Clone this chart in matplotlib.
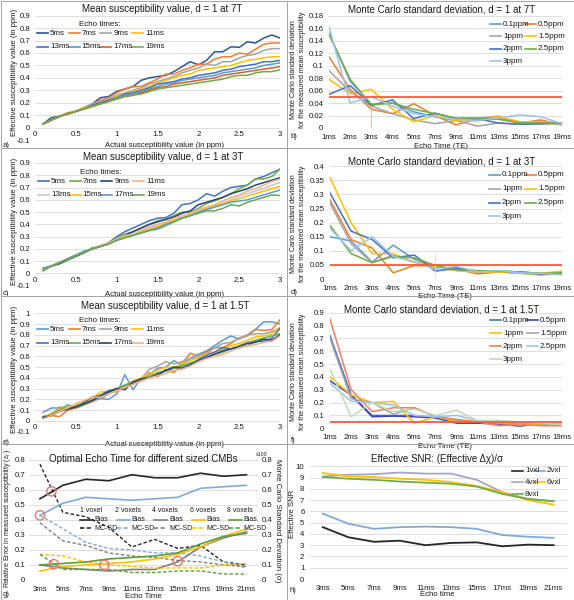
import matplotlib
matplotlib.use('Agg')
import matplotlib.pyplot as plt
from matplotlib.lines import Line2D
from matplotlib.patches import Rectangle
import numpy as np

plt.rcParams['font.family'] = ['Liberation Sans Narrow', 'Liberation Sans', 'DejaVu Sans']

# ---------------- data ----------------
chi = [round(0.1 * i, 1) for i in range(1, 31)]
echo_labels = ['5ms', '7ms', '9ms', '11ms', '13ms', '15ms', '17ms', '19ms']

a_5 = [0.03,0.08,0.09,0.11,0.13,0.16,0.19,0.24,0.25,0.29,0.31,0.33,0.38,0.40,0.41,0.42,0.45,0.49,0.53,0.505,0.54,0.61,0.61,0.65,0.645,0.69,0.68,0.72,0.745,0.72]
a_7 = [0.03,0.06,0.09,0.12,0.13,0.16,0.19,0.22,0.24,0.28,0.31,0.33,0.33,0.36,0.39,0.43,0.43,0.46,0.48,0.51,0.51,0.55,0.57,0.57,0.60,0.59,0.63,0.67,0.68,0.68]
a_9 = [0.03,0.06,0.09,0.11,0.13,0.16,0.19,0.21,0.23,0.26,0.28,0.30,0.32,0.35,0.37,0.39,0.41,0.44,0.46,0.48,0.51,0.50,0.53,0.53,0.56,0.58,0.59,0.62,0.635,0.635]
a_11 = [0.03,0.06,0.09,0.11,0.13,0.16,0.18,0.20,0.22,0.25,0.27,0.29,0.31,0.33,0.36,0.38,0.40,0.42,0.43,0.46,0.47,0.48,0.49,0.50,0.52,0.54,0.55,0.56,0.57,0.57]
a_13 = [0.03,0.06,0.09,0.11,0.13,0.15,0.18,0.20,0.22,0.24,0.27,0.28,0.30,0.32,0.35,0.36,0.37,0.39,0.40,0.42,0.43,0.44,0.46,0.47,0.49,0.50,0.51,0.53,0.53,0.54]
a_15 = [0.03,0.06,0.09,0.11,0.13,0.15,0.17,0.19,0.21,0.24,0.26,0.27,0.29,0.31,0.33,0.35,0.36,0.38,0.39,0.40,0.41,0.42,0.44,0.45,0.46,0.47,0.48,0.50,0.51,0.52]
a_17 = [0.03,0.06,0.09,0.11,0.13,0.15,0.17,0.19,0.21,0.23,0.25,0.26,0.28,0.30,0.32,0.33,0.35,0.36,0.37,0.38,0.39,0.40,0.42,0.43,0.44,0.45,0.46,0.47,0.48,0.49]
a_19 = [0.03,0.06,0.09,0.11,0.13,0.15,0.17,0.19,0.21,0.23,0.25,0.26,0.27,0.29,0.31,0.32,0.33,0.34,0.35,0.36,0.37,0.38,0.39,0.41,0.42,0.42,0.44,0.45,0.45,0.465]

c_5 = [0.04,0.06,0.08,0.11,0.14,0.17,0.20,0.22,0.25,0.30,0.34,0.37,0.40,0.43,0.45,0.455,0.49,0.56,0.57,0.60,0.65,0.63,0.67,0.70,0.71,0.72,0.77,0.79,0.82,0.85]
c_7 = [0.03,0.06,0.08,0.11,0.14,0.17,0.21,0.22,0.24,0.29,0.32,0.34,0.37,0.40,0.43,0.44,0.47,0.50,0.50,0.53,0.57,0.59,0.62,0.65,0.69,0.72,0.77,0.77,0.79,0.85]
c_9 = [0.04,0.06,0.08,0.11,0.14,0.17,0.20,0.22,0.24,0.28,0.31,0.34,0.37,0.40,0.42,0.44,0.46,0.49,0.51,0.56,0.58,0.60,0.62,0.65,0.67,0.69,0.72,0.74,0.76,0.78]
c_11 = [0.03,0.06,0.09,0.12,0.15,0.18,0.20,0.23,0.25,0.28,0.31,0.32,0.35,0.38,0.40,0.42,0.45,0.47,0.49,0.52,0.54,0.56,0.59,0.62,0.64,0.67,0.69,0.72,0.75,0.77]
c_13 = [0.03,0.06,0.09,0.12,0.15,0.18,0.20,0.22,0.24,0.28,0.30,0.32,0.34,0.37,0.39,0.41,0.44,0.46,0.48,0.51,0.53,0.55,0.57,0.60,0.63,0.65,0.67,0.69,0.72,0.74]
c_15 = [0.03,0.06,0.09,0.12,0.15,0.18,0.20,0.22,0.24,0.27,0.30,0.31,0.34,0.36,0.38,0.41,0.43,0.45,0.48,0.50,0.53,0.55,0.57,0.59,0.61,0.63,0.65,0.67,0.69,0.71]
c_17 = [0.04,0.06,0.09,0.12,0.15,0.18,0.20,0.22,0.24,0.27,0.29,0.31,0.33,0.35,0.37,0.40,0.42,0.45,0.47,0.50,0.52,0.54,0.56,0.58,0.59,0.60,0.62,0.64,0.66,0.68]
c_19 = [0.02,0.06,0.09,0.11,0.14,0.17,0.20,0.22,0.24,0.27,0.29,0.31,0.33,0.35,0.36,0.39,0.42,0.45,0.47,0.49,0.51,0.51,0.53,0.56,0.55,0.58,0.60,0.62,0.64,0.635]

e_5 = [0.08,0.12,0.12,0.10,0.15,0.15,0.18,0.21,0.20,0.25,0.43,0.29,0.40,0.43,0.49,0.50,0.56,0.52,0.58,0.62,0.65,0.70,0.75,0.79,0.76,0.80,0.85,0.92,0.92,0.90]
e_7 = [0.04,0.05,0.04,0.10,0.12,0.15,0.18,0.22,0.28,0.27,0.31,0.35,0.38,0.45,0.41,0.48,0.45,0.53,0.63,0.60,0.64,0.68,0.68,0.72,0.77,0.79,0.85,0.84,0.85,0.94]
e_9 = [0.03,0.06,0.13,0.12,0.14,0.17,0.22,0.20,0.25,0.28,0.33,0.37,0.39,0.48,0.51,0.55,0.53,0.55,0.58,0.59,0.62,0.68,0.72,0.73,0.77,0.80,0.81,0.81,0.83,0.86]
e_11 = [0.03,0.07,0.11,0.13,0.14,0.18,0.20,0.27,0.27,0.29,0.33,0.37,0.40,0.44,0.47,0.50,0.50,0.53,0.56,0.59,0.62,0.64,0.66,0.70,0.72,0.75,0.78,0.79,0.81,0.87]
e_13 = [0.04,0.05,0.09,0.12,0.13,0.17,0.22,0.24,0.28,0.30,0.33,0.36,0.39,0.41,0.44,0.47,0.49,0.51,0.53,0.57,0.61,0.64,0.68,0.67,0.68,0.70,0.74,0.74,0.77,0.86]
e_15 = [0.03,0.06,0.10,0.15,0.12,0.15,0.19,0.24,0.26,0.30,0.33,0.36,0.39,0.41,0.45,0.46,0.49,0.51,0.54,0.56,0.59,0.62,0.64,0.67,0.70,0.73,0.75,0.77,0.79,0.81]
e_17 = [0.03,0.05,0.09,0.11,0.13,0.16,0.19,0.23,0.27,0.30,0.29,0.36,0.39,0.40,0.43,0.47,0.50,0.49,0.52,0.56,0.59,0.62,0.65,0.67,0.69,0.72,0.73,0.76,0.75,0.80]
e_19 = [0.02,0.05,0.09,0.12,0.16,0.19,0.22,0.22,0.25,0.28,0.31,0.34,0.37,0.40,0.42,0.44,0.47,0.48,0.51,0.55,0.58,0.60,0.62,0.65,0.68,0.70,0.71,0.73,0.74,0.79]

te_mc = ['1ms', '2ms', '3ms', '4ms', '5ms', '7ms', '9ms', '11ms', '13ms', '15ms', '17ms', '19ms']
ppm_labels = ['0.1ppm', '0.5ppm', '1ppm', '1.5ppm', '2ppm', '2.5ppm', '3ppm']

b_01 = [0.152,0.075,0.038,0.040,0.026,0.018,0.012,0.012,0.015,0.010,0.008,0.008]
b_05 = [0.114,0.062,0.030,0.023,0.039,0.020,0.005,0.015,0.019,0.008,0.013,0.005]
b_1 = [0.092,0.058,0.035,0.023,0.013,0.007,0.012,0.003,0.008,0.006,0.006,0.007]
b_15 = [0.078,0.055,0.062,0.030,0.010,0.020,0.012,0.012,0.018,0.010,0.010,0.008]
b_2 = [0.054,0.068,0.036,0.045,0.015,0.024,0.015,0.015,0.008,0.006,0.007,0.008]
b_25 = [0.150,0.078,0.037,0.040,0.030,0.023,0.016,0.016,0.014,0.008,0.008,0.007]
b_3 = [0.162,0.040,0.050,0.035,0.023,0.018,0.014,0.012,0.016,0.021,0.018,0.007]

d_01 = [0.150,0.135,0.060,0.120,0.070,0.042,0.040,0.025,0.028,0.025,0.020,0.018]
d_05 = [0.280,0.140,0.110,0.022,0.048,0.045,0.035,0.018,0.025,0.022,0.015,0.020]
d_1 = [0.270,0.125,0.058,0.085,0.060,0.040,0.030,0.025,0.025,0.020,0.015,0.018]
d_15 = [0.360,0.200,0.090,0.090,0.060,0.045,0.030,0.025,0.025,0.020,0.020,0.028]
d_2 = [0.305,0.170,0.140,0.075,0.085,0.028,0.038,0.028,0.028,0.025,0.018,0.020]
d_25 = [0.190,0.090,0.058,0.080,0.075,0.048,0.032,0.030,0.028,0.025,0.020,0.022]
d_3 = [0.180,0.100,0.150,0.080,0.060,0.035,0.045,0.025,0.030,0.022,0.020,0.015]

f_01 = [0.720,0.260,0.100,0.100,0.100,0.085,0.045,0.040,0.035,0.015,0.040,0.030]
f_05 = [0.370,0.260,0.090,0.095,0.090,0.080,0.040,0.040,0.035,0.035,0.030,0.030]
f_1 = [0.400,0.260,0.200,0.210,0.040,0.090,0.050,0.050,0.040,0.030,0.030,0.040]
f_15 = [0.700,0.230,0.200,0.110,0.160,0.090,0.060,0.050,0.045,0.040,0.035,0.030]
f_2 = [0.850,0.300,0.130,0.160,0.160,0.090,0.070,0.050,0.020,0.030,0.020,0.020]
f_25 = [0.350,0.210,0.200,0.180,0.100,0.090,0.100,0.060,0.060,0.040,0.040,0.030]
f_3 = [0.460,0.090,0.200,0.130,0.150,0.100,0.140,0.060,0.060,0.050,0.040,0.030]

mc_threshold = 0.049

te_opt = ['3ms', '5ms', '7ms', '9ms', '11ms', '13ms', '15ms', '17ms', '19ms', '21ms']
voxel_labels = ['1 voxel', '2 voxels', '4 voxels', '6 voxels', '8 voxels']
g_bias_1 = [0.54,0.63,0.67,0.66,0.70,0.68,0.68,0.71,0.69,0.70]
g_bias_2 = [0.43,0.51,0.55,0.54,0.53,0.54,0.55,0.61,0.62,0.63]
g_bias_4 = [0.10,0.08,0.07,0.06,0.07,0.07,0.12,0.22,0.28,0.32]
g_bias_6 = [0.06,0.09,0.10,0.11,0.12,0.14,0.17,0.22,0.29,0.34]
g_bias_8 = [0.10,0.11,0.12,0.14,0.15,0.16,0.18,0.24,0.29,0.31]
g_sd_1 = [0.77,0.45,0.42,0.35,0.22,0.27,0.21,0.23,0.12,0.10]
g_sd_2 = [0.43,0.34,0.25,0.21,0.20,0.18,0.18,0.16,0.12,0.08]
g_sd_4 = [0.38,0.26,0.23,0.18,0.16,0.15,0.13,0.12,0.10,0.09]
g_sd_6 = [0.17,0.16,0.12,0.10,0.09,0.08,0.08,0.08,0.10,0.11]
g_sd_8 = [0.17,0.07,0.07,0.07,0.05,0.05,0.06,0.06,0.04,0.04]
g_cross_x = [0.5, 0.0, 0.6, 2.8, 6.0]
g_cross_y = [0.59, 0.43, 0.105, 0.10, 0.125]

vxl_labels = ['1vxl', '2vxl', '4vxl', '6vxl', '8vxl']
h_1 = [4.6,3.7,3.3,3.4,3.0,3.2,3.25,2.9,3.05,3.0]
h_2 = [5.8,4.9,4.45,4.6,4.65,4.6,4.45,3.9,3.75,3.65]
h_4 = [9.1,9.25,9.3,9.45,9.35,9.35,8.8,7.7,7.1,6.9]
h_6 = [9.4,9.1,9.05,8.9,8.8,8.6,8.25,7.7,7.0,6.6]
h_8 = [9.05,8.9,8.8,8.65,8.55,8.45,8.2,7.55,7.1,6.9]

# ---------------- figure ----------------
W, H = 574, 600
fig = plt.figure(figsize=(W / 100, H / 100), dpi=100)
TXT = '#1a1a1a'
FS = 5.6
LFS = 5.8
TFS = 7.0
LW = 1.1


def add_ax(l, r, t, b):
    return fig.add_axes([l / W, 1 - b / H, (r - l) / W, (b - t) / H])


def style(ax):
    for s in ax.spines.values():
        s.set_visible(False)
    ax.tick_params(length=0, labelsize=FS, colors=TXT)
    ax.grid(axis='y', color='#d9d9d9', lw=0.6)
    ax.set_axisbelow(True)


def ftext(x, y, s, **kw):
    kw.setdefault('fontsize', FS)
    kw.setdefault('color', TXT)
    kw.setdefault('ha', 'center')
    kw.setdefault('va', 'center')
    fig.text(x / W, 1 - y / H, s, **kw)


def leg_item(x, y, color, label, ls='-', L=11, gap=2, fs=LFS):
    fig.add_artist(Line2D([x / W, (x + L) / W], [1 - y / H, 1 - y / H],
                          transform=fig.transFigure, color=color, lw=1.2, ls=ls))
    ftext(x + L + gap, y, label, ha='left', fontsize=fs)


def fmt(v):
    return f'{round(v, 3):g}'


def susc_panel(box, series, colors, ymax, legend_xy):
    ax = add_ax(*box)
    style(ax)
    for vals, c in zip(series, colors):
        ax.plot(chi, vals, color=c, lw=LW)
    ax.set_xlim(0, 3)
    ax.set_ylim(-0.1, ymax)
    yt = np.round(np.arange(-0.1, ymax + 0.001, 0.1), 2)
    ax.set_yticks(yt)
    ax.set_yticklabels([fmt(v) for v in yt])
    xt = [0, 0.5, 1, 1.5, 2, 2.5, 3]
    ax.set_xticks(xt)
    ax.set_xticklabels([fmt(v) for v in xt])
    ax.spines['bottom'].set_position(('data', 0))
    ax.tick_params(axis='x', pad=2.5)
    lx, ly = legend_xy
    ftext(lx + 63, ly, 'Echo times:', fontsize=LFS)
    for i, (lab, c) in enumerate(zip(echo_labels, colors)):
        row, col = divmod(i, 4)
        leg_item(lx + col * 31.7, ly + 9.3 + row * 13.4, c, lab)
    return ax


def mc_panel(box, series, colors, ymax, ystep, legend_xy, rowgap, col2x):
    ax = add_ax(*box)
    style(ax)
    x = np.arange(len(te_mc))
    for vals, c in zip(series, colors):
        ax.plot(x, vals, color=c, lw=LW)
    ax.axhline(mc_threshold, color='#FF5A3C', lw=1.3, zorder=3)
    ax.set_xlim(0, len(te_mc) - 1)
    ax.set_ylim(0, ymax)
    yt = np.round(np.arange(0, ymax + 1e-9, ystep), 3)
    ax.set_yticks(yt)
    ax.set_yticklabels([fmt(v) for v in yt])
    ax.set_xticks(x)
    ax.set_xticklabels(te_mc)
    ax.tick_params(axis='x', pad=4.0)
    ax.tick_params(axis='y', pad=4.0)
    lx, ly = legend_xy
    for i, (lab, c) in enumerate(zip(ppm_labels, colors)):
        row, col = divmod(i, 2)
        leg_item(lx + col * col2x, ly + row * rowgap, c, lab)
    return ax


MC_YLABEL = 'Monte Carlo standard deviation\nfor the measured mean susceptibility'

# ---- panel a ----
cols_a = ['#2F5597', '#ED7D31', '#A5A5A5', '#FFC000', '#4472C4', '#5B9BD5', '#D9602B', '#70AD47']
susc_panel((35, 280, 15.7, 140), [a_5, a_7, a_9, a_11, a_13, a_15, a_17, a_19], cols_a, 0.9, (37, 24))
ftext(162, 9, 'Mean susceptibility value, d = 1 at 7T', fontsize=TFS)
ftext(165, 145.5, 'Actual susceptibility value (in ppm)')
ftext(15, 72, 'Effective susceptibility value (in ppm)', rotation=90)
ftext(3, 145.5, 'a)', ha='left')

# ---- panel c ----
cols_c = ['#4472C4', '#70AD47', '#264478', '#F4B183', '#C9C9C9', '#FFC000', '#5B9BD5', '#6BA84F']
susc_panel((35, 280, 163, 285.7), [c_5, c_7, c_9, c_11, c_13, c_15, c_17, c_19], cols_c, 0.9, (38, 172))
ftext(163, 157.3, 'Mean susceptibility value, d = 1 at 3T', fontsize=TFS)
ftext(165, 294.7, 'Actual susceptibility value (in ppm)')
ftext(15, 221, 'Effective susceptibility value (in ppm)', rotation=90)
ftext(3, 293.7, 'c)', ha='left')

# ---- panel e ----
cols_e = ['#5B9BD5', '#ED7D31', '#A5A5A5', '#FFC000', '#4472C4', '#70AD47', '#264478', '#F4B183']
susc_panel((35, 280, 313.3, 431.7), [e_5, e_7, e_9, e_11, e_13, e_15, e_17, e_19], cols_e, 1.0, (37, 320))
ftext(165, 306, 'Mean susceptibility value, d = 1 at 1.5T', fontsize=TFS)
ftext(165, 444, 'Actual susceptibility value (in ppm)')
ftext(15, 369, 'Effective susceptibility value (in ppm)', rotation=90)
ftext(3, 442.7, 'e)', ha='left')

# ---- panel b ----
cols_b = ['#5B9BD5', '#ED7D31', '#A5A5A5', '#FFC000', '#4472C4', '#70AD47', '#9DC3E6']
axb = mc_panel((329, 562, 15.7, 128), [b_01, b_05, b_1, b_15, b_2, b_25, b_3], cols_b, 0.18, 0.02,
               (490, 24), 12.4, 35)
axb.plot([2, 2], [0, 0.035], color='#F4B183', lw=0.6)
ftext(442, 10, 'Monte Carlo standard deviation, d = 1 at 7T', fontsize=TFS)
ftext(441, 146.7, 'Echo Time (TE)')
ftext(298, 70, MC_YLABEL, rotation=90, linespacing=1.3, fontsize=5.1)
ftext(291, 137, 'b)', ha='left')

# ---- panel d ----
cols_d = ['#5B9BD5', '#ED7D31', '#A5A5A5', '#FFC000', '#4472C4', '#70AD47', '#9DC3E6']
axd = mc_panel((330, 562, 166.3, 279), [d_01, d_05, d_1, d_15, d_2, d_25, d_3], cols_d, 0.4, 0.05,
               (489, 174.7), 13.9, 36)
axd.plot([5, 5], [0, 0.09], color='#D9D9D9', lw=0.6)
ftext(442, 161.3, 'Monte Carlo standard deviation, d = 1 at 3T', fontsize=TFS)
ftext(445, 297, 'Echo Time (TE)')
ftext(298, 224, MC_YLABEL, rotation=90, linespacing=1.3, fontsize=5.1)
ftext(291, 292, 'd)', ha='left')

# ---- panel f ----
cols_f = ['#4472C4', '#3C46B4', '#FFC000', '#A5A5A5', '#F4805A', '#9DC3E6', '#C5D9B5']
axf = mc_panel((330, 562, 312.7, 428.3), [f_01, f_05, f_1, f_15, f_2, f_25, f_3], cols_f, 0.9, 0.1,
               (490, 320), 13.1, 37)
ftext(442, 309.3, 'Monte Carlo standard deviation, d = 1 at 1.5T', fontsize=TFS)
ftext(445, 446, 'Echo Time (TE)')
ftext(298, 372, MC_YLABEL, rotation=90, linespacing=1.3, fontsize=5.1)
ftext(291, 440, 'f)', ha='left')

# ---- panel g ----
axg = add_ax(28.5, 258, 459.7, 580)
style(axg)
xg = np.arange(len(te_opt))
vox_cols = ['#262626', '#7FAADC', '#808080', '#FFC000', '#5E9E3A']
bias = [g_bias_1, g_bias_2, g_bias_4, g_bias_6, g_bias_8]
sds = [g_sd_1, g_sd_2, g_sd_4, g_sd_6, g_sd_8]
for bv, sv, c in zip(bias, sds, vox_cols):
    axg.plot(xg, bv, color=c, lw=1.2)
    axg.plot(xg, sv, color=c, lw=1.0, ls=(0, (2.5, 1.5)))
axg.scatter(g_cross_x, g_cross_y, s=45, facecolors='none', edgecolors='#E8776A', linewidths=1.0, zorder=5)
axg.set_xlim(-0.5, len(te_opt) - 0.5)
axg.set_ylim(0, 0.8)
ytg = np.round(np.arange(0, 0.81, 0.1), 1)
axg.set_yticks(ytg)
axg.set_yticklabels([fmt(v) for v in ytg])
axg.set_xticks(xg)
axg.set_xticklabels(te_opt)
axg.tick_params(axis='x', pad=4.0)
axg.tick_params(axis='y', pad=2.5)
axg2 = axg.twinx()
for s in axg2.spines.values():
    s.set_visible(False)
axg2.set_ylim(0, 0.8)
axg2.set_yticks(ytg)
axg2.set_yticklabels([fmt(v) for v in ytg])
axg2.tick_params(length=0, labelsize=FS, colors=TXT, pad=2.5)
ftext(143, 459, 'Optimal Echo Time for different sized CMBs', fontsize=TFS)
ftext(143, 597, 'Echo Time')
ftext(7.5, 518, 'Relative Error in measured susceptibility ($\\varepsilon_r$)', rotation=90, fontsize=5.0)
ftext(277, 521, 'Monte Carlo Standard Deviation (σ)', rotation=270)
ftext(262, 454, 'x100', fontsize=3.8)
ftext(3, 594.7, 'g)', ha='left')
for k, (lab, c) in enumerate(zip(voxel_labels, vox_cols)):
    x0 = 80 + 37.2 * k
    ftext(x0 + 11, 511, lab, fontsize=5.0)
    leg_item(x0, 519.5, c, 'Bias', L=13, gap=1.5, fs=5.0)
    leg_item(x0, 528, c, 'MC-SD', ls=(0, (2.5, 1.5)), L=13, gap=1.5, fs=5.0)

# ---- panel h ----
axh = add_ax(310, 566.5, 466.3, 579)
style(axh)
h_cols = ['#262626', '#7FAADC', '#A5A5C8', '#FFC000', '#70AD47']
for vals, c in zip([h_1, h_2, h_4, h_6, h_8], h_cols):
    axh.plot(xg, vals, color=c, lw=1.3)
axh.set_xlim(-0.5, len(te_opt) - 0.5)
axh.set_ylim(0, 10)
axh.set_yticks(range(0, 11))
axh.set_xticks(xg)
axh.set_xticklabels(te_opt)
axh.tick_params(axis='x', pad=4.3)
axh.tick_params(axis='y', pad=4.0)
ftext(437, 459, 'Effective SNR: (Effective Δχ)/σ', fontsize=TFS)
ftext(437, 594.7, 'Echo time')
ftext(293, 514, 'Effective SNR', rotation=90)
ftext(290, 590.7, 'h)', ha='left')
for i, (lab, c) in enumerate(zip(vxl_labels, h_cols)):
    row, col = divmod(i, 2)
    leg_item(512 + col * 22, 470.7 + row * 11.7, c, lab)

# ---- panel borders ----
for (x0, x1) in [(0.5, 287), (287, 573.5)]:
    for (y0, y1) in [(0.5, 148), (148, 296), (296, 444), (444, 599.5)]:
        fig.add_artist(Rectangle((x0 / W, 1 - y1 / H), (x1 - x0) / W, (y1 - y0) / H,
                                 transform=fig.transFigure, fill=False,
                                 edgecolor='#a6a6a6', lw=0.7, zorder=10))

fig.savefig('out.png', dpi=100)
